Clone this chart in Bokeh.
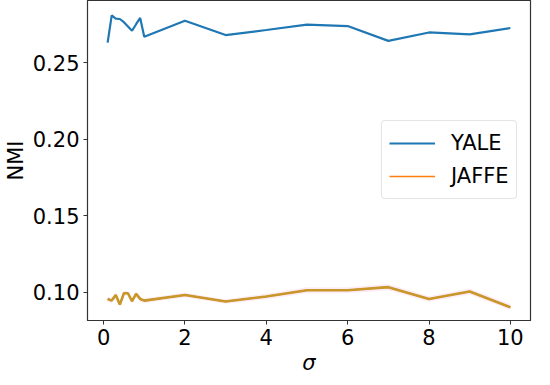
from bokeh.plotting import figure
from bokeh.models import Range1d, FixedTicker, Legend, LegendItem, ColumnDataSource
from bokeh.embed import file_html
from bokeh.resources import INLINE

sigma = [0.1, 0.2, 0.3, 0.4, 0.5, 0.6, 0.7, 0.8, 0.9, 1.0, 2, 3, 4, 5, 6, 7, 8, 9, 10]
yale = [0.2632, 0.2810, 0.2788, 0.2786, 0.2765, 0.2737, 0.2709, 0.2752, 0.2793, 0.2670,
        0.2775, 0.2681, 0.2714, 0.2749, 0.2740, 0.2643, 0.2698, 0.2685, 0.2727]
jaffe = [0.0956, 0.0945, 0.0982, 0.0919, 0.0993, 0.0993, 0.0941, 0.0989, 0.0956, 0.0945,
         0.0982, 0.0939, 0.0972, 0.1013, 0.1013, 0.1033, 0.0956, 0.1005, 0.0902]
jaffe_std = [0.0015, 0.0015, 0.0015, 0.0015, 0.0015, 0.0015, 0.0015, 0.0015, 0.0015, 0.0015,
             0.0015, 0.0015, 0.0018, 0.0020, 0.0020, 0.0020, 0.0018, 0.0020, 0.0020]
x_ticks = [0, 2, 4, 6, 8, 10]
y_ticks = [0.10, 0.15, 0.20, 0.25]

src = ColumnDataSource(dict(
    x=sigma, yale=yale, jaffe=jaffe,
    lo=[a - s for a, s in zip(jaffe, jaffe_std)],
    hi=[a + s for a, s in zip(jaffe, jaffe_std)],
))

p = figure(width=534, height=377, output_backend="svg", toolbar_location=None,
           x_range=Range1d(-0.395, 10.495), y_range=Range1d(0.0815, 0.2907),
           min_border_left=4, min_border_right=4, min_border_top=0, min_border_bottom=0)

p.varea(x="x", y1="lo", y2="hi", source=src, fill_color="#f9d9ee", fill_alpha=0.5)
r_yale = p.line("x", "yale", source=src, line_color="#1f77b4", line_width=2.2)
r_jaffe = p.line("x", "jaffe", source=src, line_color="#ff7f0e", line_width=1.6)
p.line("x", "jaffe", source=src, line_color="#c9962a", line_width=2.6)

legend = Legend(items=[LegendItem(label="YALE", renderers=[r_yale]),
                       LegendItem(label="JAFFE", renderers=[r_jaffe])],
                location=(294, 121))
legend.label_text_font = "DejaVu Sans"
legend.label_text_font_size = "21px"
legend.label_text_color = "#000000"
legend.glyph_width = 46
legend.glyph_height = 30
legend.label_standoff = 16
legend.spacing = 3
legend.padding = 7
legend.margin = 0
legend.border_line_color = "#cccccc"
legend.border_line_width = 1
legend.border_radius = 4
legend.background_fill_alpha = 0.8
p.add_layout(legend, "center")

p.xgrid.visible = False
p.ygrid.visible = False
p.outline_line_color = "#333333"
p.outline_line_width = 1.2

for ax in (p.xaxis[0], p.yaxis[0]):
    ax.major_label_text_font = "DejaVu Sans"
    ax.major_label_text_font_size = "21px"
    ax.major_label_text_color = "#000000"
    ax.axis_label_text_font = "DejaVu Sans"
    ax.axis_label_text_font_size = "21px"
    ax.axis_label_text_font_style = "normal"
    ax.axis_label_text_color = "#000000"
    ax.major_tick_in = 0
    ax.major_tick_out = 4
    ax.minor_tick_line_color = None
    ax.axis_line_color = "#333333"
    ax.major_tick_line_color = "#333333"

p.xaxis.ticker = FixedTicker(ticks=x_ticks)
p.yaxis.ticker = FixedTicker(ticks=y_ticks)
p.yaxis.major_label_overrides = {t: f"{t:.2f}" for t in y_ticks}
p.xaxis.axis_label = "σ"
p.xaxis.axis_label_text_font_style = "italic"
p.xaxis.axis_label_standoff = 3
p.xaxis.major_label_standoff = 4
p.yaxis.axis_label = "NMI"
p.yaxis.axis_label_standoff = 2
p.yaxis.major_label_standoff = 4

open("out.html", "w").write(file_html(p, INLINE))
